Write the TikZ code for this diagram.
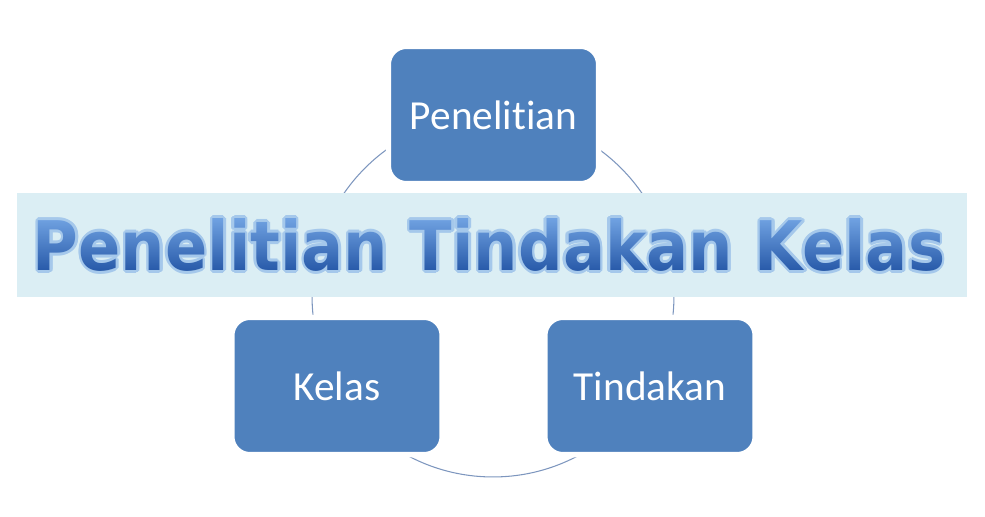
\documentclass[tikz,border=0pt]{standalone}
\usepackage{fontspec}
\setmainfont{Carlito}[Ligatures={NoCommon}]
\newfontfamily\titlefont{DejaVu Sans}
\usetikzlibrary{fadings}

\definecolor{boxblue}{RGB}{79,129,189}
\definecolor{bannerblue}{RGB}{219,238,244}
\definecolor{ringblue}{RGB}{125,150,190}
\definecolor{glowblue}{RGB}{165,200,235}
\definecolor{titletop}{RGB}{115,165,228}
\definecolor{titlebottom}{RGB}{35,85,165}

\newcommand{\titletext}{\resizebox{18.24cm}{1.04cm}{\titlefont\bfseries Penelitian Tindakan Kelas}}

\tikzset{
    stage/.style={fill=boxblue,draw=white,line width=3pt,rounded corners=0.36cm,
        minimum width=4.1cm+3pt,minimum height=2.64cm+3pt,inner sep=0,
        text=white,font=\fontsize{23.5}{28}\selectfont},
    banner/.style={fill=bannerblue,minimum width=19cm,minimum height=2.08cm,inner sep=0}
}

% letters of the title, and a soft rim round them
\begin{tikzfadingfrompicture}[name=titlefade]
    \node[text=transparent!0,inner sep=0] {\titletext};
\end{tikzfadingfrompicture}
\begin{tikzfadingfrompicture}[name=rimfade,x=0.02cm,y=0.02cm]
    \path (-480,-40) rectangle (480,40);
    \foreach \a in {0,30,...,330}
        \node[text=transparent!0,inner sep=0] at (\a:2.6) {\titletext};
\end{tikzfadingfrompicture}

\begin{document}
\begin{tikzpicture}[x=0.02cm,y=-0.02cm]
        \useasboundingbox (0,0) rectangle (985,517);
        % cycle ring behind the stages
        \coordinate (ring) at (493,296);
        \draw[ringblue,line width=0.6pt] (ring) circle [radius=3.62cm];

        \node[stage] (pen) at (493.5,115) {Penelitian};
        \node[stage] (kel) at (337,386) {Kelas};
        \node[stage] (tin) at (650,386) {Tindakan};

        % title band
        \node[banner] (band) at (492,245) {};
        \coordinate (titlec) at (489,245);
        \fill[glowblue,path fading=rimfade,fit fading=false,fading transform={shift={(titlec)}}]
            (9,205) rectangle (969,285);
        \shade[path fading=titlefade,fit fading=false,fading transform={shift={(titlec)}},
            top color=titletop,bottom color=titlebottom] (25,216) rectangle (955,274);
\end{tikzpicture}
\end{document}
